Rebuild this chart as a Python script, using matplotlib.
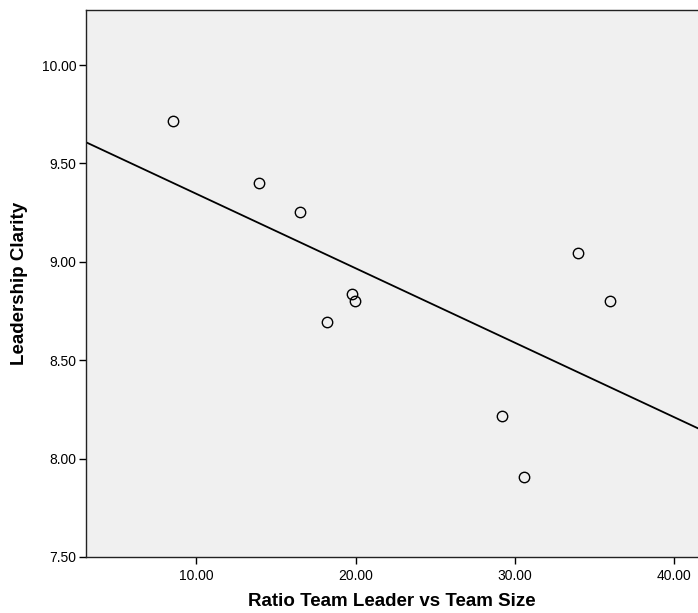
import numpy as np
import matplotlib
matplotlib.use("Agg")
import matplotlib.pyplot as plt

plt.rcParams['font.family'] = ['Liberation Sans', 'DejaVu Sans']

ratio = [8.55, 13.96, 16.54, 19.81, 19.94, 18.24, 29.18, 30.57, 33.96, 35.97]
clarity = [9.715, 9.40, 9.253, 8.836, 8.80, 8.694, 8.216, 7.906, 9.045, 8.80]
xticks = [10, 20, 30, 40]
yticks = [7.5, 8.0, 8.5, 9.0, 9.5, 10.0]

fig = plt.figure(figsize=(6.98, 6.13), dpi=100)
ax = fig.add_axes([86/698, 1-557/613, 612/698, 547/613])
ax.set_facecolor('#F0F0F0')

xlim = (3.08, 41.5)
ylim = (7.5, 10.28)

slope, intercept = np.polyfit(ratio, clarity, 1)
xl = np.array(xlim)
ax.plot(xl, intercept + slope * xl, color='black', lw=1.3, zorder=2)
ax.plot(ratio, clarity, 'o', mfc='none', mec='black', ms=7.5, mew=1.0, zorder=3)

ax.set_xlim(*xlim)
ax.set_ylim(*ylim)
ax.set_xticks(xticks)
ax.set_yticks(yticks)
ax.set_xticklabels([f"{v:.2f}" for v in xticks])
ax.set_yticklabels([f"{v:.2f}" for v in yticks])
ax.tick_params(direction='out', length=5, width=1, labelsize=10, colors='black')
ax.tick_params(axis='x', pad=4)
ax.tick_params(axis='y', pad=2)
for s in ['left', 'bottom', 'top']:
    ax.spines[s].set_color('#222222')
    ax.spines[s].set_linewidth(1.0)
ax.spines['right'].set_visible(False)

ax.set_xlabel('Ratio Team Leader vs Team Size', fontsize=13.5, fontweight='bold', labelpad=7)
ax.set_ylabel('Leadership Clarity', fontsize=13.5, fontweight='bold', labelpad=10)

fig.savefig('out.png', dpi=100)
